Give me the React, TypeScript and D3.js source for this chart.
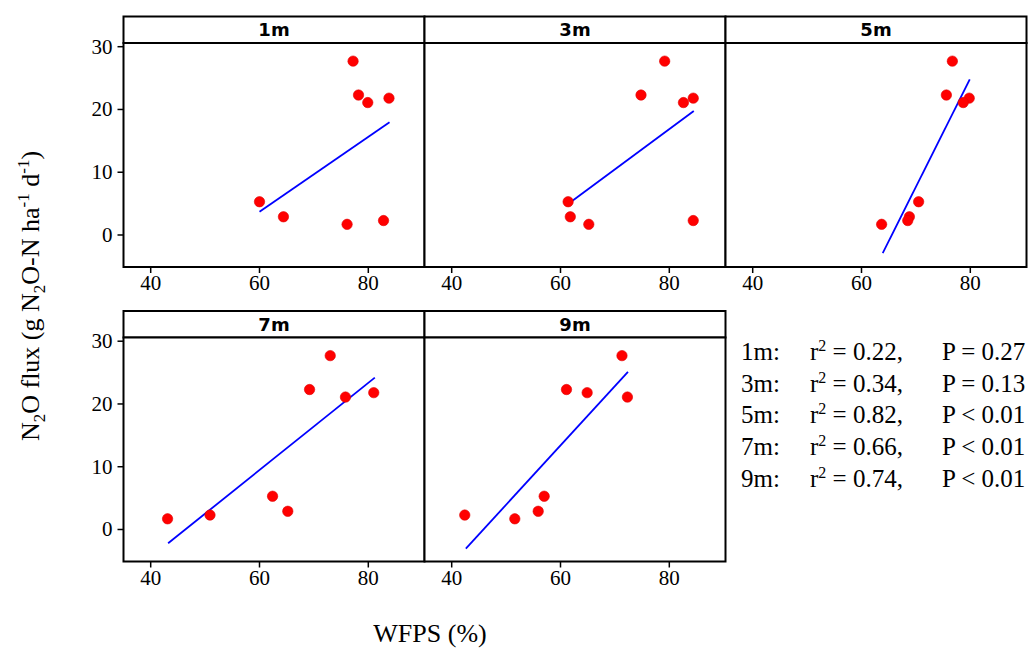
import React from "react";
import * as d3 from "d3";

const panelNames = ["1m", "3m", "5m", "7m", "9m"];
const flux = [27.7, 22.3, 21.8, 21.1, 5.3, 2.9, 2.3, 1.7];
const wfps1m = [77.2, 78.2, 83.8, 79.9, 60.0, 64.4, 82.8, 76.1];
const wfps3m = [79.15, 74.8, 84.4, 82.6, 61.4, 61.8, 84.4, 65.2];
const wfps5m = [76.7, 75.6, 79.8, 78.7, 70.5, 68.8, 68.5, 63.7];
const wfps7m = [73.0, 69.2, 81.0, 75.8, 62.4, 65.2, 50.9, 43.1];
const wfps9m = [71.3, 61.1, 64.9, 72.3, 57.0, 55.9, 42.4, 51.6];
const wfpsByPanel = [wfps1m, wfps3m, wfps5m, wfps7m, wfps9m];

// fitted line endpoints
const fitStartX = [60.0, 61.7, 63.9, 43.2, 42.6];
const fitStartY = [3.7, 5.15, -2.9, -2.2, -3.05];
const fitEndX = [83.9, 84.5, 79.9, 81.2, 72.4];
const fitEndY = [17.95, 19.75, 24.8, 24.2, 25.1];

const r2Labels = ["0.22", "0.34", "0.82", "0.66", "0.74"];
const pLabels = ["= 0.27", "= 0.13", "< 0.01", "< 0.01", "< 0.01"];

const xTicks = [40, 60, 80];
const yTicks = [0, 10, 20, 30];

const W = 1035;
const H = 648;
const x0 = 123.5;
const panelW = 301;
const stripH = 26.5;
const plotH = 224;
const rowTops = [16.5, 311];
const serif = "'Liberation Serif', 'Times New Roman', serif";
const sans = "'DejaVu Sans', Verdana, sans-serif";

export default function App() {
  const x = d3.scaleLinear().domain([35, 90.33]).range([0, panelW]);
  const y = d3.scaleLinear().domain([-5.1, 30.59]).range([plotH, 0]);
  const line = d3
    .line<[number, number]>()
    .x((d) => x(d[0]))
    .y((d) => y(d[1]));

  return (
    <svg
      width={W}
      height={H}
      style={{ position: "absolute", left: 0, top: 0, background: "#fff" }}
    >
      {panelNames.map((name, i) => {
        const col = i % 3;
        const row = Math.floor(i / 3);
        const px = x0 + col * panelW;
        const py = rowTops[row];
        const data = wfpsByPanel[i].map((w, k) => [w, flux[k]] as [number, number]);
        return (
          <g key={name} transform={`translate(${px},${py})`}>
            <rect x={0} y={0} width={panelW} height={stripH} fill="#fff" stroke="#000" strokeWidth={2} />
            <text
              x={panelW / 2}
              y={stripH / 2 + 6.5}
              textAnchor="middle"
              fontFamily={sans}
              fontWeight="bold"
              fontSize={18}
            >
              {name}
            </text>
            <g transform={`translate(0,${stripH})`}>
              <rect x={0} y={0} width={panelW} height={plotH} fill="#fff" stroke="#000" strokeWidth={2} />
              <path
                d={line([
                  [fitStartX[i], fitStartY[i]],
                  [fitEndX[i], fitEndY[i]],
                ]) || ""}
                stroke="#0000ff"
                strokeWidth={1.8}
                fill="none"
              />
              {data.map((d, k) => (
                <circle key={k} cx={x(d[0])} cy={y(d[1])} r={5.2} fill="#ff0000" stroke="#e00000" strokeWidth={0.6} />
              ))}
              {xTicks.map((t) => (
                <g key={t} transform={`translate(${x(t)},${plotH})`}>
                  <line y1={0} y2={6} stroke="#000" strokeWidth={1.5} />
                  <text y={23} textAnchor="middle" fontFamily={serif} fontSize={21}>
                    {t}
                  </text>
                </g>
              ))}
              {col === 0 &&
                yTicks.map((t) => (
                  <g key={t} transform={`translate(0,${y(t)})`}>
                    <line x1={-6} x2={0} stroke="#000" strokeWidth={1.5} />
                    <text x={-11} y={7} textAnchor="end" fontFamily={serif} fontSize={21}>
                      {t}
                    </text>
                  </g>
                ))}
            </g>
          </g>
        );
      })}

      {panelNames.map((name, i) => {
        const by = 360 + i * 31.7;
        return (
          <g key={"leg" + name} fontFamily={serif} fontSize={25}>
            <text x={741} y={by}>{name}:</text>
            <text x={810} y={by}>
              r<tspan dy={-9} fontSize={16}>2</tspan>
              <tspan dy={9}>{" = " + r2Labels[i] + ","}</tspan>
            </text>
            <text x={942} y={by}>
              {"P "}
              <tspan>{pLabels[i].slice(0, 1)}</tspan>
              <tspan>{" " + pLabels[i].slice(2)}</tspan>
            </text>
          </g>
        );
      })}

      <text x={430} y={642} textAnchor="middle" fontFamily={serif} fontSize={26}>
        WFPS (%)
      </text>

      <text
        transform="translate(39,296) rotate(-90)"
        textAnchor="middle"
        fontFamily={serif}
        fontSize={26}
      >
        N<tspan dy={6} fontSize={17}>2</tspan>
        <tspan dy={-6}>O flux (g N</tspan>
        <tspan dy={6} fontSize={17}>2</tspan>
        <tspan dy={-6}>O-N ha</tspan>
        <tspan dy={-10} fontSize={17}>-1</tspan>
        <tspan dy={10}> d</tspan>
        <tspan dy={-10} fontSize={17}>-1</tspan>
        <tspan dy={10}>)</tspan>
      </text>
    </svg>
  );
}
